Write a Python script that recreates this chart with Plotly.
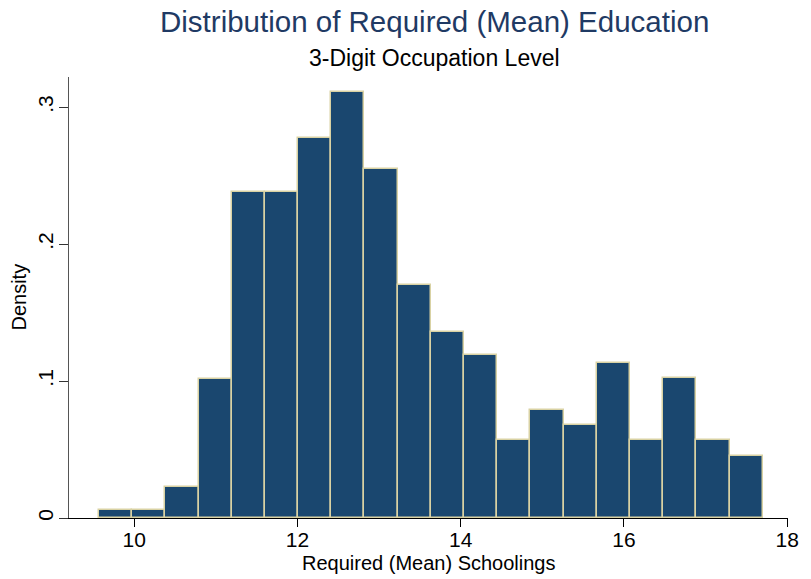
import plotly.graph_objects as go

# Histogram data (density per bin)
bin_start = 9.567
bin_width = 0.4067
density = [0.0057, 0.0057, 0.0226, 0.1017, 0.2377, 0.2377, 0.2773, 0.3113,
           0.2547, 0.1698, 0.1358, 0.1188, 0.0566, 0.0792, 0.0679, 0.1132,
           0.0566, 0.1019, 0.0566, 0.0453]
x_ticks = [10, 12, 14, 16, 18]
y_ticks = [0, 0.1, 0.2, 0.3]
y_ticktext = ["0", ".1", ".2", ".3"]

centers = [bin_start + bin_width * (i + 0.5) for i in range(len(density))]

FONT = "Liberation Sans, Arial, sans-serif"

fig = go.Figure()
fig.add_trace(go.Bar(
    x=centers, y=density, width=[bin_width] * len(density),
    marker=dict(color="#1a476f", line=dict(color="#d9d2a3", width=1.5)),
    hoverinfo="x+y",
))

W, H = 811, 579
L, R, T, B = 69, 15, 77, 61
ph = H - T - B
pw = W - L - R

def py(y_px):
    return (H - B - y_px) / ph

def px(x_px):
    return (x_px - L) / pw

fig.update_layout(
    width=W, height=H,
    margin=dict(l=L, r=R, t=T, b=B),
    paper_bgcolor="white", plot_bgcolor="white",
    showlegend=False, bargap=0,
    font=dict(family=FONT, color="black"),
    xaxis=dict(range=[9.2, 18.01], tickvals=x_ticks, showline=True,
               linecolor="black", linewidth=1, ticks="outside", ticklen=8,
               tickcolor="black", showgrid=False, zeroline=False,
               ticklabelstandoff=-5,
               tickfont=dict(size=21, family=FONT, color="black")),
    yaxis=dict(range=[0, 0.322], tickvals=y_ticks, ticktext=y_ticktext,
               showline=True, linecolor="#555555", linewidth=1,
               ticks="outside", ticklen=9, tickcolor="#333333",
               tickangle=-90, showgrid=False, zeroline=False,
               ticklabelstandoff=-2,
               tickfont=dict(size=21, family=FONT, color="black")),
    annotations=[
        dict(text="Distribution of Required (Mean) Education", xref="paper", yref="paper",
             x=px(439), y=py(22), xanchor="center", yanchor="middle", showarrow=False,
             font=dict(size=29.5, family=FONT, color="#1f3a64")),
        dict(text="3-Digit Occupation Level", xref="paper", yref="paper",
             x=px(439), y=py(58), xanchor="center", yanchor="middle", showarrow=False,
             font=dict(size=23, family=FONT, color="black")),
        dict(text="Required (Mean) Schoolings", xref="paper", yref="paper",
             x=px(432), y=py(563), xanchor="center", yanchor="middle", showarrow=False,
             font=dict(size=20, family=FONT, color="black")),
        dict(text="Density", xref="paper", yref="paper", textangle=-90,
             x=px(18), y=py(297), xanchor="center", yanchor="middle", showarrow=False,
             font=dict(size=20, family=FONT, color="black")),
    ],
)

# remove the default 8px page margin so the figure fills the 811x579 window exactly
fig.write_html("out.html", config={"displayModeBar": False},
               post_script="document.body.style.margin='0';document.body.style.overflow='hidden';")
